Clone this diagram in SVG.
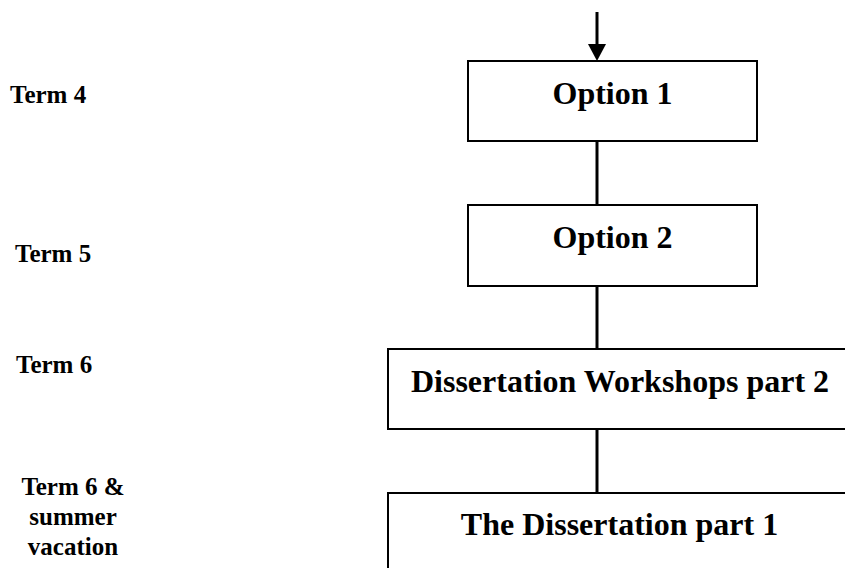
<svg xmlns="http://www.w3.org/2000/svg" width="845" height="568" viewBox="0 0 845 568">
<style>
.box{fill:#fff;stroke:#000;stroke-width:2}
.bt{font-family:"Liberation Serif","Times New Roman",serif;font-weight:bold;font-size:32px;fill:#000;text-anchor:middle}
.lt{font-family:"Liberation Serif","Times New Roman",serif;font-weight:bold;font-size:25px;fill:#000}
.con{stroke:#000;stroke-width:3;fill:none}
</style>
<rect width="845" height="568" fill="#fff"/>
<g id="connectors">
<line class="con" x1="597" y1="12" x2="597" y2="44"/>
<path d="M588,44 L606,44 L597,61 Z" fill="#000"/>
<line class="con" x1="597" y1="141" x2="597" y2="205"/>
<line class="con" x1="597" y1="286" x2="597" y2="349"/>
<line class="con" x1="597" y1="429" x2="597" y2="493"/>
</g>
<g id="option1">
<rect class="box" x="468" y="61" width="289" height="80"/>
<text class="bt" x="612.5" y="103.5">Option 1</text>
</g>
<g id="option2">
<rect class="box" x="468" y="205" width="289" height="81"/>
<text class="bt" x="612.5" y="247.5">Option 2</text>
</g>
<g id="workshops2">
<rect class="box" x="388" y="349" width="464" height="80"/>
<text class="bt" x="620" y="391.5">Dissertation Workshops part 2</text>
</g>
<g id="dissertation1">
<rect class="box" x="388" y="493" width="464" height="90"/>
<text class="bt" x="619.5" y="535">The Dissertation part 1</text>
</g>
<g id="labels">
<text class="lt" x="10" y="103">Term 4</text>
<text class="lt" x="15" y="262">Term 5</text>
<text class="lt" x="16" y="373">Term 6</text>
<text class="lt" text-anchor="middle"><tspan x="73" y="495">Term 6 &amp;</tspan><tspan x="73" y="525">summer</tspan><tspan x="73" y="555">vacation</tspan></text>
</g>
</svg>
